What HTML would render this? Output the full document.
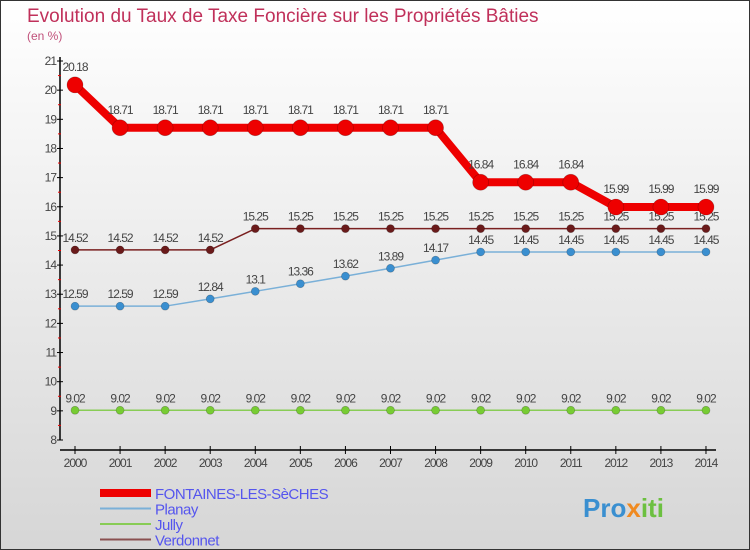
<!DOCTYPE html>
<html><head><meta charset="utf-8"><style>
html,body{margin:0;padding:0}
body{width:750px;height:550px;overflow:hidden;font-family:"Liberation Sans",sans-serif}
svg{display:block}
</style></head><body>
<svg id="chart" width="750" height="550" xmlns="http://www.w3.org/2000/svg">
<defs><linearGradient id="bg" x1="0" y1="0" x2="0" y2="1"><stop offset="0" stop-color="#ffffff"/><stop offset="1" stop-color="#d6d6d6"/></linearGradient></defs>
<rect x="0.5" y="0.5" width="749" height="549" fill="url(#bg)" stroke="#333"/>
<text x="27" y="22" font-size="19" fill="#c0305a">Evolution du Taux de Taxe Foncière sur les Propriétés Bâties</text>
<text x="27" y="40" font-size="12" fill="#c0507a">(en %)</text>
<g id="axes"></g><g id="series"></g><g id="legend"></g>
<text x="583" y="517" font-size="26" font-weight="bold" fill="#3a8fd0">Pro<tspan fill="#f08a20">x</tspan><tspan fill="#6cc040">iti</tspan></text>
</svg>
<script>
const years=[2000,2001,2002,2003,2004,2005,2006,2007,2008,2009,2010,2011,2012,2013,2014];
const fontaines=[20.18,18.71,18.71,18.71,18.71,18.71,18.71,18.71,18.71,16.84,16.84,16.84,15.99,15.99,15.99];
const planay=[12.59,12.59,12.59,12.84,13.1,13.36,13.62,13.89,14.17,14.45,14.45,14.45,14.45,14.45,14.45];
const jully=[9.02,9.02,9.02,9.02,9.02,9.02,9.02,9.02,9.02,9.02,9.02,9.02,9.02,9.02,9.02];
const verdonnet=[14.52,14.52,14.52,14.52,15.25,15.25,15.25,15.25,15.25,15.25,15.25,15.25,15.25,15.25,15.25];
const yTicks=[8,9,10,11,12,13,14,15,16,17,18,19,20,21];
const NS="http://www.w3.org/2000/svg";
const yMin=8,yMax=21,yTop=61,yBot=440;
const xFirst=75,xStep=45.07;
const X=i=>xFirst+i*xStep;
const Y=v=>yBot-(v-yMin)/(yMax-yMin)*(yBot-yTop);
function mk(tag,attrs,parent,txt){const e=document.createElementNS(NS,tag);for(const k in attrs)e.setAttribute(k,attrs[k]);if(txt!==undefined)e.textContent=txt;parent.appendChild(e);return e;}
const axes=document.getElementById('axes');
let e=mk('line',{x1:60,y1:yTop-4,x2:60,y2:yBot,stroke:'#000','stroke-width':1.5},axes);

e=mk('line',{x1:60,y1:450,x2:716,y2:450,stroke:'#000','stroke-width':1.5},axes);

yTicks.forEach(v=>{
  mk('line',{x1:57,y1:Y(v),x2:63,y2:Y(v),stroke:'#000'},axes);
  if(v<yMax)mk('line',{x1:58,y1:Y(v+0.5),x2:61,y2:Y(v+0.5),stroke:'#e00'},axes);
  e=mk('text',{x:56,y:Y(v)+4,'font-size':12,fill:'#444','text-anchor':'end','letter-spacing':'-1'},axes,String(v));
  
});
years.forEach((yr,i)=>{
  mk('line',{x1:X(i),y1:446,x2:X(i),y2:454,stroke:'#000'},axes);
  e=mk('text',{x:X(i),y:467,'font-size':12,fill:'#444','text-anchor':'middle','letter-spacing':'-1'},axes,String(yr));
  
});
const ser=document.getElementById('series');
function draw(vals,name,color,w,r,mcol,labOff){
  const g=mk('g',{},ser);
  
  const pl=mk('polyline',{points:vals.map((v,i)=>X(i)+','+Y(v)).join(' '),fill:'none',stroke:color,'stroke-width':w,'stroke-linejoin':'round'},g);
  
  vals.forEach((v,i)=>{
    const c=mk('circle',{cx:X(i),cy:Y(v),r:r,fill:mcol,stroke:'rgba(0,0,0,0.25)','stroke-width':0.7},g);
    
    const t=mk('text',{x:X(i),y:Y(v)-labOff,'font-size':12,fill:'#444','text-anchor':'middle','letter-spacing':'-1'},g,String(v));
    
  });
}
draw(jully,'jully','#88cc55',1.5,4,'#77cc33',8);
draw(planay,'planay','#7ab0d8',1.5,4,'#3a8fd0',8);
draw(verdonnet,'verdonnet','#7a2020',1.5,4,'#6a1a1a',8);
draw(fontaines,'fontaines','#ee0000',8,8,'#ee0000',14);
const lg=document.getElementById('legend');
const items=[['FONTAINES-LES-SèCHES','#ee0000',8],['Planay','#7ab0d8',2],['Jully','#88cc55',2],['Verdonnet','#8a5050',2]];
items.forEach((it,i)=>{
  const y=493+i*15.5;
  const g=mk('g',{},lg);
  
  mk('line',{x1:100,y1:y,x2:151,y2:y,stroke:it[1],'stroke-width':it[2]},g);
  mk('text',{x:155,y:y+6,'font-size':15,fill:'#5555ee','letter-spacing':'-0.5'},g,it[0]);
});
</script>
</body></html>
